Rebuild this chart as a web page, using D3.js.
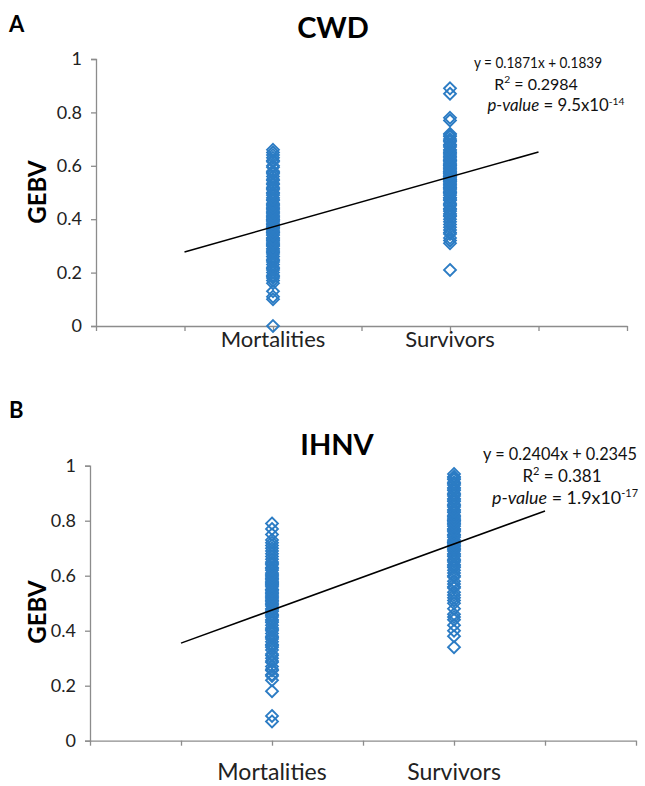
<!DOCTYPE html>
<html><head><meta charset="utf-8">
<script src="https://cdn.jsdelivr.net/npm/d3@7"></script>
<style>body{margin:0;background:#fff}svg{display:block}text{font-family:Lato,"Open Sans",sans-serif}</style>
</head><body>
<svg id="c" width="645" height="786"></svg>
<script>
// ---- data ----
const categories = ["Mortalities", "Survivors"];
const yTicks = [0, 0.2, 0.4, 0.6, 0.8, 1];

const cwdMortalities = [0.00,0.10,0.11,0.13,0.16,0.17,0.18,0.19,0.20,0.21,0.22,0.23,0.24,0.25,0.26,0.26,0.27,0.28,0.29,0.30,0.30,0.31,0.32,0.33,0.33,0.34,0.35,0.35,0.36,0.37,0.37,0.38,0.39,0.40,0.40,0.41,0.42,0.43,0.44,0.45,0.46,0.47,0.48,0.49,0.50,0.51,0.52,0.53,0.55,0.56,0.57,0.58,0.60,0.62,0.63,0.65,0.66,
  0.185,0.215,0.245,0.275,0.285,0.305,0.315,0.325,0.345,0.355,0.365,0.375,0.385,0.395,0.405,0.415,0.425,0.435,0.445,0.455,0.475,0.495,0.515,0.535,0.545,0.575,0.595,0.615,0.64];
const cwdSurvivors = [0.21,0.31,0.32,0.33,0.35,0.36,0.37,0.38,0.40,0.41,0.42,0.43,0.44,0.45,0.46,0.47,0.48,0.48,0.49,0.50,0.50,0.51,0.52,0.52,0.53,0.54,0.54,0.55,0.55,0.56,0.56,0.57,0.57,0.58,0.58,0.59,0.60,0.60,0.61,0.62,0.62,0.63,0.64,0.65,0.66,0.67,0.68,0.69,0.70,0.71,0.72,0.77,0.78,0.87,0.89,
  0.345,0.39,0.415,0.435,0.455,0.475,0.495,0.505,0.515,0.525,0.535,0.545,0.555,0.565,0.575,0.585,0.595,0.605,0.615,0.625,0.635,0.645,0.655,0.675,0.695,0.715];
const ihnvMortalities = [0.07,0.09,0.18,0.22,0.24,0.26,0.27,0.29,0.30,0.31,0.33,0.34,0.35,0.36,0.37,0.38,0.39,0.40,0.41,0.42,0.43,0.44,0.45,0.46,0.47,0.48,0.49,0.50,0.51,0.52,0.53,0.54,0.55,0.55,0.56,0.57,0.57,0.58,0.59,0.60,0.61,0.62,0.63,0.64,0.65,0.66,0.68,0.70,0.71,0.73,0.75,0.77,0.79,
  0.235,0.255,0.285,0.315,0.345,0.375,0.405,0.435,0.455,0.475,0.495,0.505,0.515,0.525,0.535,0.545,0.565,0.575,0.585,0.595,0.605,0.625,0.645,0.67,0.69,0.72];
const ihnvSurvivors = [0.34,0.38,0.40,0.42,0.44,0.46,0.48,0.50,0.51,0.53,0.54,0.56,0.57,0.58,0.60,0.61,0.62,0.63,0.64,0.65,0.66,0.67,0.68,0.69,0.70,0.71,0.72,0.72,0.73,0.74,0.75,0.76,0.77,0.77,0.78,0.79,0.80,0.80,0.81,0.82,0.83,0.84,0.85,0.86,0.87,0.88,0.89,0.90,0.91,0.92,0.93,0.94,0.95,0.96,0.97,
  0.45,0.52,0.555,0.595,0.635,0.655,0.675,0.695,0.705,0.715,0.725,0.745,0.765,0.785,0.795,0.805,0.815,0.835,0.855,0.875,0.895,0.915,0.935,0.955];

const cwdFit = {slope: 0.1871, intercept: 0.1839, eq: "y = 0.1871x + 0.1839", r2: "0.2984", p: "9.5x10", pExp: "-14"};
const ihnvFit = {slope: 0.2404, intercept: 0.2345, eq: "y = 0.2404x + 0.2345", r2: "0.381", p: "1.9x10", pExp: "-17"};

// ---- layout ----
const panels = [
  {letter:"A", title:"CWD", mort:cwdMortalities, surv:cwdSurvivors, fit:cwdFit,
   x0:96, x1:627, yTop:59, yBot:326, letterY:32, titleX:333, titleY:38,
   eqX:538, eqY:68, eqFs:16, lh:21.5, eqW:128, rX:536, pX:556, pW:137, labY:347, labFs:22, gebvY:192},
  {letter:"B", title:"IHNV", mort:ihnvMortalities, surv:ihnvSurvivors, fit:ihnvFit,
   x0:90, x1:636, yTop:465.7, yBot:740.7, letterY:418, titleX:337, titleY:455,
   eqX:560, eqY:460, eqFs:17, lh:22, eqW:154, rX:562, pX:565, pW:146, labY:780, labFs:23, gebvY:612}
];

const svg = d3.select("#c");
const blue = "#2c7cc4";
const axisCol = "#8c8c8c";

panels.forEach(P => {
  const x = d3.scaleLinear().domain([0,3]).range([P.x0, P.x1]);
  const y = d3.scaleLinear().domain([0,1]).range([P.yBot, P.yTop]);
  const g = svg.append("g");

  // axes
  const yAxis = d3.axisLeft(y).tickValues(yTicks).tickFormat(d3.format("~g")).tickSize(5).tickPadding(9);
  const ya = g.append("g").attr("transform", `translate(${P.x0},0)`).call(yAxis);
  ya.selectAll("path,line").attr("stroke", axisCol).attr("stroke-width", 1.3);
  ya.selectAll("text").attr("font-size", 18).attr("fill", "#222").attr("font-family","Lato,sans-serif");

  const xAxis = d3.axisBottom(x).tickValues([0,0.5,1,1.5,2,2.5,3]).tickFormat("").tickSize(5).tickSizeOuter(0);
  const xa = g.append("g").attr("transform", `translate(0,${P.yBot})`).call(xAxis);
  xa.selectAll("path,line").attr("stroke", axisCol).attr("stroke-width", 1.3);

  // points
  const diamond = d3.symbol().type(d3.symbolDiamond2).size(90);
  const pts = [];
  P.mort.forEach(v => pts.push({cx:1, v}));
  P.surv.forEach(v => pts.push({cx:2, v}));
  g.append("g").selectAll("path").data(pts).join("path")
    .attr("d", diamond)
    .attr("transform", d => `translate(${x(d.cx)},${y(d.v)})`)
    .attr("fill", "none").attr("stroke", blue).attr("stroke-width", 1.9);

  // trend line
  const f = P.fit;
  const lineX = [0.5, 2.5];
  g.append("path").datum(lineX)
    .attr("d", d3.line().x(d => x(d)).y(d => y(f.slope*d + f.intercept)))
    .attr("stroke", "#000").attr("stroke-width", 1.5).attr("fill", "none");

  // category labels
  categories.forEach((c,i) => {
    g.append("text").attr("x", x(i+1)).attr("y", P.labY).attr("text-anchor","middle")
      .attr("font-size", P.labFs).attr("fill","#222").text(c);
  });

  // letter + title
  svg.append("text").attr("x", 9).attr("y", P.letterY).attr("font-size", 22).attr("font-weight","bold")
    .attr("font-family","Arial, Liberation Sans, sans-serif").text(P.letter);
  svg.append("text").attr("x", P.titleX).attr("y", P.titleY).attr("text-anchor","middle")
    .attr("font-size", 29).attr("font-weight","bold").text(P.title);

  // y label
  svg.append("text").attr("transform", `translate(46,${P.gebvY}) rotate(-90)`)
    .attr("text-anchor","middle").attr("font-size", 24).attr("font-weight","bold")
    .attr("font-family","Arial, Liberation Sans, sans-serif").text("GEBV");

  // equation block
  const lh = P.lh;
  svg.append("text").attr("x", P.eqX).attr("y", P.eqY).attr("text-anchor","middle")
    .attr("font-size", P.eqFs).attr("fill","#111")
    .attr("textLength", P.eqW).attr("lengthAdjust","spacingAndGlyphs").text(f.eq);
  const r = svg.append("text").attr("x", P.rX).attr("y", P.eqY+lh).attr("text-anchor","middle")
    .attr("font-size", P.eqFs).attr("fill","#111");
  r.append("tspan").text("R");
  r.append("tspan").attr("font-size", P.eqFs*0.65).attr("dy", -P.eqFs*0.4).text("2");
  r.append("tspan").attr("dy", P.eqFs*0.4).text(" = " + f.r2);
  const p = svg.append("text").attr("x", P.pX).attr("y", P.eqY+2*lh).attr("text-anchor","middle")
    .attr("font-size", P.eqFs+1).attr("fill","#111")
    .attr("textLength", P.pW).attr("lengthAdjust","spacingAndGlyphs");
  p.append("tspan").attr("font-style","italic").text("p-value");
  p.append("tspan").text(" = " + f.p);
  p.append("tspan").attr("font-size", P.eqFs*0.65).attr("dy", -P.eqFs*0.4).text(f.pExp);
});
</script>
</body></html>
